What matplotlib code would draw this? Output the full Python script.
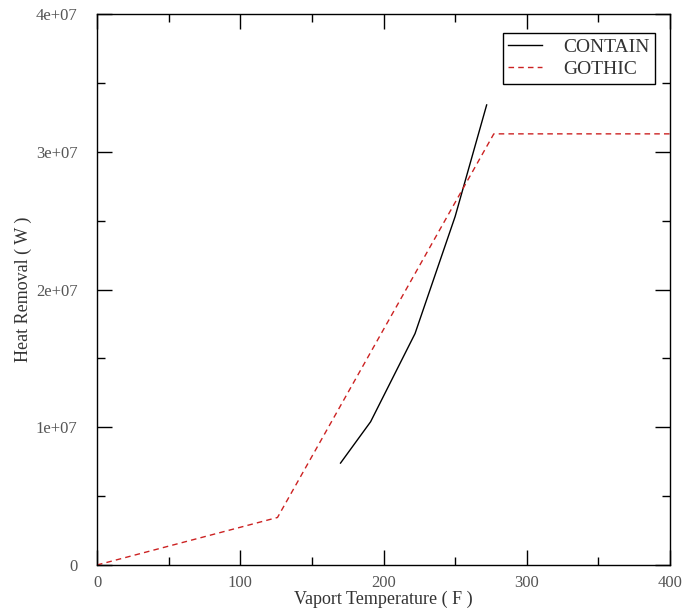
import numpy as np
import matplotlib.pyplot as plt

plt.rcParams['font.family'] = ['Liberation Serif', 'DejaVu Serif']

# CONTAIN run
contain_t = [170, 191, 222, 250, 272]
contain_q = [7.4e6, 1.04e7, 1.68e7, 2.53e7, 3.34e7]

# GOTHIC run
gothic_t = [0, 126, 277, 400]
gothic_q = [0.0, 3.45e6, 3.13e7, 3.13e7]

x_ticks = [0, 100, 200, 300, 400]
x_labels = ['0', '100', '200', '300', '400']
y_ticks = [0, 1e7, 2e7, 3e7, 4e7]
y_labels = ['0', '1e+07', '2e+07', '3e+07', '4e+07']

fig = plt.figure(figsize=(6.86, 6.15), dpi=100)
ax = fig.add_axes([0.1414, 0.0813, 0.8353, 0.8959])

ax.plot(contain_t, contain_q, color='black', lw=1.0, label='CONTAIN')
ax.plot(gothic_t, gothic_q, color='#cc2222', lw=1.0, ls=(0, (4, 3)), label='GOTHIC')

ax.set_xlim(0, 400)
ax.set_ylim(0, 4e7)
ax.set_xticks(x_ticks)
ax.set_xticklabels(x_labels)
ax.set_xticks(np.arange(50, 400, 100), minor=True)
ax.set_yticks(y_ticks)
ax.set_yticklabels(y_labels)
ax.set_yticks(np.arange(5e6, 4e7, 1e7), minor=True)

ax.tick_params(which='both', direction='in', top=True, right=True,
               labelsize=12, labelcolor='#555555', width=1.0)
ax.tick_params(axis='x', which='major', length=11, pad=7)
ax.tick_params(axis='y', which='major', length=11, pad=14)
ax.tick_params(which='minor', length=6)
for s in ax.spines.values():
    s.set_linewidth(1.0)

ax.set_xlabel('Vaport Temperature ( F )', fontsize=13, color='#333333', labelpad=0)
ax.set_ylabel('Heat Removal ( W )', fontsize=13, color='#333333', labelpad=3)

leg = ax.legend(loc='upper right', bbox_to_anchor=(0.974, 0.966), fontsize=14,
                fancybox=False, edgecolor='black', framealpha=1,
                handlelength=1.7, handletextpad=1.1, borderpad=0.3,
                labelspacing=0.2, borderaxespad=0)
leg.get_frame().set_linewidth(1.0)
for t in leg.get_texts():
    t.set_color('#333333')

fig.savefig('out.png', dpi=100)
